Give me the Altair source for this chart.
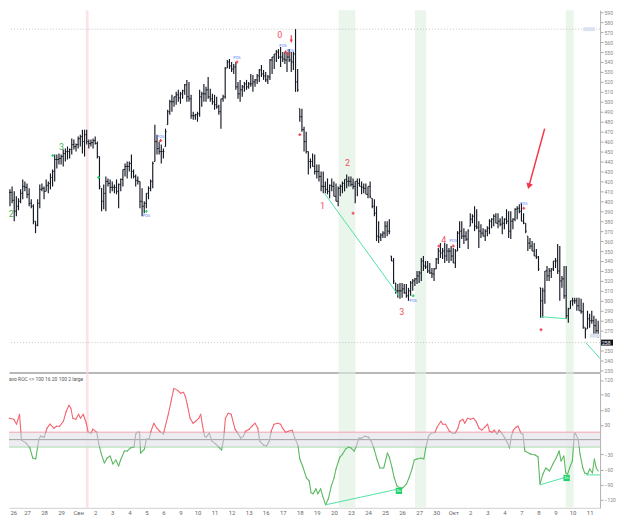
import altair as alt
import pandas as pd

# ---------------- price bars ----------------
highs = [
    412, 415, 410, 405, 403, 412, 422, 420, 418, 413,
    402, 397, 380, 402, 417, 418, 415, 422, 420, 428,
    432, 447, 447, 448, 447, 452, 453, 455, 453, 463,
    462, 458, 465, 467, 472, 472, 472, 462, 462, 463,
    465, 460, 445, 413, 417, 425, 423, 422, 420, 417,
    422, 418, 423, 432, 438, 440, 440, 447, 432, 427,
    425, 420, 413, 400, 408, 415, 422, 440, 477, 467,
    460, 457, 453, 473, 492, 502, 507, 505, 510, 512,
    510, 512, 518, 522, 520, 507, 490, 488, 490, 512,
    510, 518, 515, 525, 513, 508, 507, 505, 497, 503,
    507, 535, 542, 543, 540, 538, 540, 520, 522, 517,
    520, 522, 520, 528, 527, 523, 528, 533, 537, 532,
    530, 527, 543, 545, 548, 552, 553, 555, 550, 550,
    550, 553, 550, 550, 573, 533, 493, 493, 475, 470,
    450, 443, 448, 447, 437, 437, 430, 430, 420, 423,
    417, 423, 420, 418, 415, 417, 420, 422, 427, 425,
    425, 423, 420, 423, 423, 420, 418, 418, 415, 420,
    403, 402, 395, 380, 368, 370, 380, 380, 382, 345,
    343, 318, 317, 318, 318, 317, 317, 313, 320, 322,
    323, 330, 330, 343, 345, 340, 340, 338, 333, 333,
    343, 353, 358, 353, 358, 357, 353, 355, 353, 352,
    370, 380, 380, 373, 370, 372, 388, 387, 395, 392,
    380, 377, 373, 372, 375, 382, 383, 387, 388, 388,
    383, 385, 383, 392, 390, 390, 383, 393, 395, 397,
    398, 388, 378, 365, 363, 360, 358, 352, 345, 313,
    313, 330, 335, 333, 333, 340, 343, 357, 355, 325,
    335, 335, 293, 300, 303, 303, 303, 303, 302, 298,
    273, 290, 287, 290, 285, 282, 280,
]
lows = [
    395, 398, 380, 385, 391, 398, 402, 410, 403, 395,
    393, 377, 368, 375, 393, 410, 402, 410, 408, 412,
    415, 420, 433, 437, 437, 435, 440, 442, 443, 447,
    452, 450, 453, 455, 448, 445, 457, 453, 455, 453,
    457, 443, 412, 390, 392, 390, 415, 408, 410, 408,
    407, 393, 410, 415, 425, 423, 430, 423, 423, 415,
    417, 393, 385, 388, 393, 402, 410, 413, 440, 447,
    447, 438, 443, 455, 477, 487, 490, 495, 497, 500,
    498, 503, 507, 500, 500, 483, 482, 482, 480, 485,
    495, 500, 500, 503, 500, 497, 492, 493, 487, 473,
    500, 503, 534, 533, 530, 528, 512, 503, 500, 505,
    510, 512, 513, 515, 510, 515, 518, 520, 525, 522,
    520, 518, 522, 528, 533, 540, 543, 535, 540, 538,
    530, 540, 530, 532, 510, 510, 480, 470, 450, 448,
    427, 433, 435, 427, 423, 420, 410, 408, 408, 407,
    403, 410, 405, 400, 395, 405, 408, 410, 413, 415,
    415, 412, 398, 405, 415, 407, 408, 407, 403, 403,
    393, 385, 360, 358, 360, 363, 363, 365, 367, 340,
    317, 307, 303, 302, 303, 307, 303, 300, 305, 310,
    315, 317, 318, 320, 330, 332, 328, 327, 323, 320,
    332, 337, 343, 342, 338, 340, 338, 340, 338, 333,
    350, 353, 362, 357, 360, 352, 375, 378, 370, 372,
    353, 363, 365, 360, 365, 367, 373, 375, 378, 373,
    375, 367, 372, 377, 363, 362, 372, 380, 382, 388,
    380, 377, 368, 350, 352, 350, 345, 342, 330, 283,
    283, 297, 320, 320, 323, 330, 333, 327, 300, 313,
    302, 282, 278, 292, 295, 297, 290, 290, 287, 272,
    262, 272, 273, 277, 265, 267, 263,
]
closes = [
    409, 401, 390, 395, 400, 408, 415, 414, 407, 398,
    395, 380, 376, 398, 412, 413, 410, 416, 418, 424,
    430, 442, 442, 443, 445, 448, 450, 450, 452, 457,
    455, 457, 463, 465, 460, 467, 460, 458, 459, 461,
    458, 445, 415, 400, 408, 420, 418, 414, 414, 414,
    410, 417, 422, 432, 435, 435, 438, 430, 425, 421,
    420, 400, 395, 398, 408, 413, 420, 438, 460, 453,
    450, 450, 450, 470, 490, 500, 500, 505, 507, 504,
    508, 511, 517, 505, 503, 486, 486, 487, 488, 505,
    508, 508, 512, 505, 503, 500, 497, 495, 490, 503,
    505, 533, 540, 536, 533, 535, 515, 508, 512, 515,
    518, 515, 518, 518, 520, 522, 526, 532, 528, 526,
    522, 525, 542, 545, 548, 550, 545, 545, 543, 542,
    545, 542, 540, 548, 520, 512, 485, 472, 460, 450,
    440, 440, 435, 430, 430, 425, 415, 415, 412, 410,
    416, 415, 405, 400, 413, 415, 418, 422, 420, 420,
    417, 415, 420, 418, 415, 414, 413, 407, 415, 405,
    395, 388, 365, 364, 366, 368, 375, 370, 370, 340,
    320, 310, 310, 310, 312, 308, 305, 310, 318, 320,
    322, 325, 328, 340, 335, 334, 330, 328, 327, 332,
    342, 350, 348, 350, 345, 350, 350, 345, 338, 350,
    368, 370, 365, 365, 362, 370, 382, 385, 375, 374,
    370, 368, 365, 370, 373, 380, 382, 385, 378, 380,
    377, 378, 382, 380, 370, 380, 382, 392, 393, 390,
    380, 378, 370, 358, 355, 350, 345, 344, 332, 300,
    310, 330, 325, 330, 332, 340, 340, 330, 320, 322,
    305, 285, 292, 300, 300, 300, 295, 290, 289, 274,
    271, 282, 280, 280, 275, 270, 265,
]

# day labels: one every 8 bars
day_labels = ["26", "27", "28", "29", "Сен", "2", "3", "4", "5", "6",
              "9", "10", "11", "12", "13", "16", "17", "18", "19", "20",
              "23", "24", "25", "26", "27", "30", "Окт", "2", "3", "4",
              "7", "8", "9", "10", "11"]
BARS_PER_DAY = 8

# ---------------- oscillator ----------------
osc_t = [
    -0.4, 1.8, 3.1, 4.5, 5.4, 7.6, 9.4, 10.7, 12.1, 13.4,
    14.3, 16.1, 17.4, 18.8, 20.6, 21.9, 23.3, 25.1, 26.4, 27.7,
    28.6, 29.5, 30.9, 32.2, 33.1, 34.4, 35.8, 36.7, 38.0, 38.9,
    40.7, 41.6, 42.9, 44.3, 45.6, 47.0, 48.3, 49.7, 51.0, 51.9,
    53.7, 55.0, 56.4, 58.2, 59.0, 59.9, 60.8, 61.3, 63.1, 64.0,
    65.3, 66.2, 67.5, 68.9, 70.2, 72.0, 72.9, 74.3, 75.6, 76.9,
    78.7, 80.1, 81.4, 82.3, 83.2, 84.5, 85.9, 87.2, 88.6, 89.5,
    90.4, 91.3, 92.1, 93.5, 94.8, 96.6, 98.0, 99.3, 100.2, 101.1,
    102.4, 103.8, 105.6, 106.9, 108.3, 109.6, 110.5, 112.3, 113.6, 115.0,
    116.3, 117.2, 119.0, 120.3, 121.7, 122.6, 123.9, 125.7, 127.0, 127.9,
    129.3, 130.6, 132.4, 133.7, 135.1, 136.0, 137.3, 139.1, 140.4, 141.3,
    142.2, 143.6, 144.5, 145.8, 146.7, 148.1, 149.4, 150.8, 152.1, 153.0,
    154.8, 156.1, 157.5, 158.8, 160.1, 161.5, 162.4, 163.7, 165.1, 166.4,
    168.2, 169.5, 170.9, 172.2, 173.6, 175.4, 176.2, 177.1, 178.0, 179.3,
    180.3, 181.6, 182.9, 184.3, 186.1, 187.4, 188.8, 189.7, 191.0, 192.8,
    194.2, 195.1, 196.4, 197.7, 199.5, 200.4, 202.2, 203.1, 204.4, 206.2,
    207.6, 208.9, 210.2, 211.1, 212.5, 213.4, 214.7, 216.1, 217.4, 218.7,
    220.1, 221.4, 222.8, 224.1, 225.0, 226.3, 227.2, 228.6, 229.5, 230.8,
    232.2, 233.5, 234.4, 235.3, 236.2, 237.5, 238.4, 239.8, 240.7, 241.6,
    244.2, 246.5, 247.8, 248.7, 250.1, 251.4, 253.2, 255.0, 256.3, 257.7,
    258.6, 259.9, 260.8, 261.7, 262.6, 263.9, 264.8, 265.3, 266.6, 267.5,
    268.8, 269.7, 271.1, 272.0, 273.3, 274.2, 275.1, 276.0,
]
osc_v = [
    43, 41, 31, 51, -1, -7, -17, -37, -39, -3,
    7, 5, 23, 31, 23, 27, 27, 37, 57, 69,
    63, 43, 41, 51, 43, 51, 33, 15, 13, 21,
    15, -7, -29, -47, -37, -33, -49, -41, -53, -41,
    -23, -23, -17, -15, 11, 15, 15, -27, -19, 1,
    1, 17, 33, 23, 17, 11, 27, 51, 77, 103,
    99, 93, 95, 87, 71, 43, 33, 37, 43, 51,
    27, 7, 5, 13, -3, -9, -15, -21, -1, 43,
    53, 51, 21, 13, 3, 7, 17, 21, 27, 33,
    23, -3, -11, -13, -3, 17, 31, 33, 31, 23,
    15, 17, 19, 3, -11, -39, -53, -77, -83, -107,
    -109, -99, -109, -99, -113, -131, -119, -93, -77, -59,
    -35, -29, -19, -15, -17, -23, -15, 3, 3, 7,
    5, -3, -19, -39, -57, -57, -43, -27, -35, -57,
    -77, -93, -97, -97, -89, -75, -57, -41, -39, -37,
    -39, -17, 7, 13, 15, 25, 37, 31, 31, 17,
    13, 13, 23, 37, 41, 33, 43, 41, 43, 37,
    23, 19, 25, 31, 17, 15, 19, 11, 19, 13,
    3, -7, -17, 7, 19, 25, 27, 13, 11, -23,
    -29, -31, -35, -89, -69, -57, -63, -47, -37, -23,
    -43, -33, -67, -69, -57, -43, 11, 13, 1, -29,
    -57, -67, -69, -59, -67, -39, -57, -63,
]
osc_upper, osc_mid, osc_lower = 15, 0, -15

# ---------------- annotations ----------------
band_start = [35.6, 154.2, 190.1, 260.8]
band_end = [36.9, 162.1, 195.3, 264.5]
band_color = ["#fde3e6", "#eaf5eb", "#eaf5eb", "#eaf5eb"]

level_prices = [573, 258]
last_price = 258

trend_t0 = [147.6, 249.2, 270.2]
trend_p0 = [408, 284, 258]
trend_t1 = [182.5, 261.2, 276.9]
trend_p1 = [305, 282, 242]

osc_trend_t0 = [148.1, 248.7, 270.2]
osc_trend_v0 = [-131, -91, -71]
osc_trend_t1 = [182.5, 261.2, 276.9]
osc_trend_v1 = [-99, -75, -71]

div_t = [182.5, 261.2]
div_v = [-103, -77]

wave_text = ["0", "1", "2", "3", "4", "3", "2"]
wave_t = [126.6, 146.7, 158.4, 183.9, 203.5, 24.2, 0.6]
wave_p = [567, 395, 438, 289, 361, 455, 387]
wave_col = ["#f0525c"] * 5 + ["#4caf50"] * 2

pos_t = [64.0, 70.7, 106.5, 128.2, 131.6, 189.2, 208.0, 241.1]
pos_p = [385, 465, 544, 556, 551, 300, 360, 397]

red_mark_t = [70.7, 106.5, 129.3, 130.6, 136.0, 161.0, 201.3, 208.0, 241.1, 249.2]
red_mark_p = [461, 540, 550, 548, 467, 388, 355, 355, 393, 271]
green_mark_t = [20.1, 41.6, 64.0, 189.2]
green_mark_p = [446, 424, 390, 305]

tag_t0 = [269.0, 272.0]
tag_t1 = [274.5, 276.6]
tag_p0 = [571, 263]
tag_p1 = [575, 267]

arrow_t0, arrow_p0, arrow_t1, arrow_p1 = 250.9, 473, 243.6, 416
spike_icon_t, spike_icon_p = 132.0, 563

osc_title = "avo ROC <> 100 16 20 100 2 large"

# ---------------- build tables ----------------
n = len(highs)
opens = []
prev = closes[0]
for i in range(n):
    opens.append(min(max(prev, lows[i]), highs[i]))
    prev = closes[i]
bars = pd.DataFrame({
    "t": list(range(n)), "hi": highs, "lo": lows,
    "op": opens, "cl": [min(max(c, l), h) for c, l, h in zip(closes, lows, highs)],
})
bars["tl"] = bars["t"] - 0.45
bars["tr"] = bars["t"] + 0.45

# oscillator segments split at the level crossings
segs = []
pts = list(zip(osc_t, osc_v))
for (t0, v0), (t1, v1) in zip(pts, pts[1:]):
    cuts = []
    for L in (osc_upper, osc_lower):
        if (v0 - L) * (v1 - L) < 0:
            f = (L - v0) / (v1 - v0)
            cuts.append((f, t0 + f * (t1 - t0), L))
    cuts.sort()
    chain = [(t0, v0)] + [(c[1], c[2]) for c in cuts] + [(t1, v1)]
    for (a, b), (c, d) in zip(chain, chain[1:]):
        m = (b + d) / 2
        z = "up" if m > osc_upper else ("dn" if m < osc_lower else "mid")
        segs.append({"t0": a, "v0": b, "t1": c, "v1": d, "z": z})
osc_segs = pd.DataFrame(segs)

bands = pd.DataFrame({"t0": band_start, "t1": band_end, "c": band_color})

# ---------------- scales / sizes ----------------
W, H1, H2 = 594, 364, 135
X = alt.Scale(domain=[-0.45, 276.9], nice=False, zero=False)
P = alt.Scale(domain=[228, 592], nice=False, zero=False)
O = alt.Scale(domain=[-137, 133], nice=False, zero=False)
FONT = "Roboto"
BAR = "#131722"
TREND = "#4fe3a3"

label_js = "[" + ",".join("'" + s + "'" for s in day_labels) + "]"
price_ticks = [v for v in range(230, 592, 10) if abs(v - last_price) > 5]

XT = alt.Axis(orient="bottom", labels=False, ticks=False, grid=False, title=None,
              domainColor="#a0a0a0", domainWidth=1.5)
XB = alt.Axis(orient="bottom", values=[BARS_PER_DAY * k for k in range(len(day_labels))],
              labelExpr=label_js + "[round(datum.value/" + str(BARS_PER_DAY) + ")]",
              labelFontSize=6, labelColor="#666", tickSize=0, labelPadding=2,
              grid=False, title=None, domainColor="#d0d0d0", labelFont=FONT)
YP = alt.Axis(orient="right", values=price_ticks, labelFontSize=5,
              labelColor="#888", tickSize=3, tickColor="#aaa", domainColor="#b0b0b0",
              grid=False, title=None, labelPadding=1, labelFont=FONT)
YO = alt.Axis(orient="right", values=[-120, -90, -60, -30, 30, 60, 90, 120],
              labelFontSize=5, labelColor="#888", tickSize=3, tickColor="#aaa",
              domainColor="#b0b0b0", grid=False, title=None, labelPadding=1, labelFont=FONT)


def xt(f):
    return alt.X(f, scale=X, axis=XT)


def xb(f):
    return alt.X(f, scale=X, axis=XB)


def yp(f):
    return alt.Y(f, scale=P, axis=YP)


def yo(f):
    return alt.Y(f, scale=O, axis=YO)


# ---------------- price panel ----------------
band_layer = alt.Chart(bands).mark_rect().encode(
    x=xt("t0:Q"), x2="t1:Q", color=alt.Color("c:N", scale=None))

hlines = alt.Chart(pd.DataFrame({"p": level_prices})).mark_rule(
    color="#c4c4c4", strokeDash=[1, 2], strokeWidth=1).encode(y=yp("p:Q"))

hl = alt.Chart(bars).mark_rule(color=BAR, strokeWidth=1.15).encode(
    x=xt("t:Q"), y=yp("lo:Q"), y2="hi:Q")
ot = alt.Chart(bars).mark_rule(color=BAR, strokeWidth=1).encode(
    x=xt("tl:Q"), x2="t:Q", y=yp("op:Q"))
ct = alt.Chart(bars).mark_rule(color=BAR, strokeWidth=1).encode(
    x=xt("t:Q"), x2="tr:Q", y=yp("cl:Q"))

trend = alt.Chart(pd.DataFrame({"t0": trend_t0, "p0": trend_p0, "t1": trend_t1, "p1": trend_p1})
                  ).mark_rule(color=TREND, strokeWidth=1).encode(
    x=xt("t0:Q"), x2="t1:Q", y=yp("p0:Q"), y2="p1:Q")

tags = alt.Chart(pd.DataFrame({"t0": tag_t0, "t1": tag_t1, "p0": tag_p0, "p1": tag_p1})
                 ).mark_rect(color="#dbe3f0").encode(
    x=xt("t0:Q"), x2="t1:Q", y=yp("p0:Q"), y2="p1:Q")

waves = alt.Chart(pd.DataFrame({"s": wave_text, "t": wave_t, "p": wave_p, "c": wave_col})
                  ).mark_text(fontSize=9, font=FONT).encode(
    x=xt("t:Q"), y=yp("p:Q"), text="s:N", color=alt.Color("c:N", scale=None))

pos = alt.Chart(pd.DataFrame({"t": pos_t, "p": pos_p, "s": ["POS"] * len(pos_t)})
                ).mark_text(fontSize=4, font=FONT, color="#5a7dff").encode(
    x=xt("t:Q"), y=yp("p:Q"), text="s:N")

red_marks = alt.Chart(pd.DataFrame({"t": red_mark_t, "p": red_mark_p})).mark_point(
    shape="cross", filled=True, size=9, color="#f0404c", opacity=1).encode(
    x=xt("t:Q"), y=yp("p:Q"))
green_marks = alt.Chart(pd.DataFrame({"t": green_mark_t, "p": green_mark_p})).mark_point(
    shape="cross", filled=True, size=9, color="#2ecc71", opacity=1).encode(
    x=xt("t:Q"), y=yp("p:Q"))

arrow_line = alt.Chart(pd.DataFrame({"t0": [arrow_t0], "p0": [arrow_p0], "t1": [arrow_t1], "p1": [arrow_p1]})
                       ).mark_rule(color="#f23645", strokeWidth=1.5).encode(
    x=xt("t0:Q"), x2="t1:Q", y=yp("p0:Q"), y2="p1:Q")
arrow_head = alt.Chart(pd.DataFrame({"t": [arrow_t1], "p": [arrow_p1]})).mark_point(
    shape="triangle", filled=True, size=45, angle=196, color="#f23645", opacity=1).encode(
    x=xt("t:Q"), y=yp("p:Q"))
spike_icon = alt.Chart(pd.DataFrame({"t": [spike_icon_t], "p": [spike_icon_p]})).mark_point(
    shape="arrow", filled=True, size=60, angle=180, color="#f23645", opacity=1).encode(
    x=xt("t:Q"), y=yp("p:Q"))

last_box = alt.Chart(pd.DataFrame({"p": [last_price], "s": [str(last_price)]})).mark_text(
    fontSize=5, color="white", align="left", dx=2, font=FONT).encode(
    y=yp("p:Q"), x=alt.value(W), text="s:N")
last_bg = alt.Chart(pd.DataFrame({"p": [last_price - 3], "p2": [last_price + 3]})).mark_rect(
    color="#131722").encode(y=yp("p:Q"), y2="p2:Q", x=alt.value(W + 1), x2=alt.value(W + 13))

price_panel = alt.layer(
    band_layer, hlines, hl, ot, ct, trend, tags, arrow_line, arrow_head, spike_icon,
    red_marks, green_marks, pos, waves, last_bg, last_box,
).properties(width=W, height=H1)

# ---------------- oscillator panel ----------------
band_layer2 = alt.Chart(bands).mark_rect().encode(
    x=xb("t0:Q"), x2="t1:Q", color=alt.Color("c:N", scale=None))
zone = alt.Chart(pd.DataFrame({"lo": [osc_lower], "hi": [osc_upper]})).mark_rect(
    color="#e9e9ee", opacity=0.85).encode(y=yo("lo:Q"), y2="hi:Q")
lv = alt.Chart(pd.DataFrame({"v": [osc_upper, osc_mid, osc_lower],
                             "c": ["#f5a2aa", "#a0a0a0", "#a8dcaa"]})).mark_rule(strokeWidth=1).encode(
    y=yo("v:Q"), color=alt.Color("c:N", scale=None))
osc_line = alt.Chart(osc_segs).mark_rule(strokeWidth=1.1, strokeCap="round").encode(
    x=xb("t0:Q"), x2="t1:Q", y=yo("v0:Q"), y2="v1:Q",
    color=alt.Color("z:N", scale=alt.Scale(domain=["up", "mid", "dn"],
                                           range=["#f26470", "#b4b4b8", "#5cb860"]), legend=None))
osc_trend = alt.Chart(pd.DataFrame({"t0": osc_trend_t0, "v0": osc_trend_v0,
                                    "t1": osc_trend_t1, "v1": osc_trend_v1})
                      ).mark_rule(color=TREND, strokeWidth=1).encode(
    x=xb("t0:Q"), x2="t1:Q", y=yo("v0:Q"), y2="v1:Q")
div_box = alt.Chart(pd.DataFrame({"t": div_t, "v": div_v})).mark_square(
    size=40, color="#1fd36a", opacity=1).encode(x=xb("t:Q"), y=yo("v:Q"))
div_txt = alt.Chart(pd.DataFrame({"t": div_t, "v": div_v, "s": ["Div"] * len(div_t)})).mark_text(
    fontSize=3, color="white", font=FONT).encode(x=xb("t:Q"), y=yo("v:Q"), text="s:N")
title_txt = alt.Chart(pd.DataFrame({"t": [-0.45], "v": [122], "s": [osc_title]})).mark_text(
    fontSize=5, color="#555", align="left", font=FONT).encode(x=xb("t:Q"), y=yo("v:Q"), text="s:N")

osc_panel = alt.layer(
    band_layer2, zone, lv, osc_line, osc_trend, div_box, div_txt, title_txt,
).properties(width=W, height=H2)

chart = alt.vconcat(price_panel, osc_panel, spacing=0).properties(
    padding=0, background="white"
).configure_view(stroke=None)

chart.save("out.html", embed_options={"renderer": "svg", "actions": False})
